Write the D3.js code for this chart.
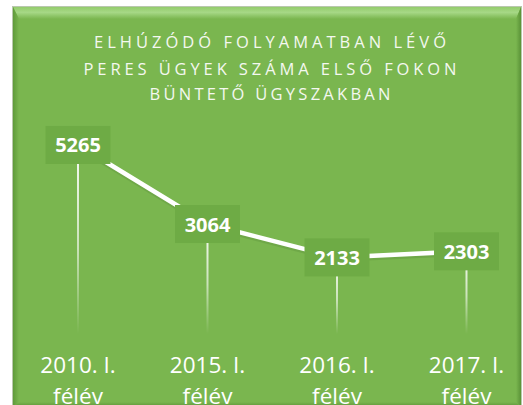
<!DOCTYPE html>
<html><head><meta charset="utf-8">
<script src="https://cdn.jsdelivr.net/npm/d3@7"></script>
<style>html,body{margin:0;padding:0;background:#fff;overflow:hidden}</style>
</head><body>
<script>
const categories = ["2010. I. félév", "2015. I. félév", "2016. I. félév", "2017. I. félév"];
const catLine1 = ["2010. I.", "2015. I.", "2016. I.", "2017. I."];
const catLine2 = ["félév", "félév", "félév", "félév"];
const values = [5265, 3064, 2133, 2303];
const titleLines = ["ELHÚZÓDÓ FOLYAMATBAN LÉVŐ", "PERES ÜGYEK SZÁMA ELSŐ FOKON", "BÜNTETŐ ÜGYSZAKBAN"];

const W = 523, H = 405;
const svg = d3.select("body").append("svg").attr("width", W).attr("height", H);
const defs = svg.append("defs");

const P = {x0: 13, y0: 7, x1: 521, y1: 407};
const base = "#7ab64f";

// panel
svg.append("rect").attr("x", P.x0 - 1).attr("y", P.y0 - 1).attr("width", P.x1 - P.x0 + 2).attr("height", P.y1 - P.y0 + 2).attr("fill", "#b9c7ae");
svg.append("rect").attr("x", P.x0).attr("y", P.y0).attr("width", P.x1 - P.x0).attr("height", P.y1 - P.y0).attr("fill", base);

// bevels
const gTop = defs.append("linearGradient").attr("id", "gTop").attr("x1", 0).attr("y1", 0).attr("x2", 0).attr("y2", 1);
gTop.append("stop").attr("offset", "0%").attr("stop-color", "#93cc6c");
gTop.append("stop").attr("offset", "45%").attr("stop-color", "#a6d886");
gTop.append("stop").attr("offset", "100%").attr("stop-color", base);
const gLeft = defs.append("linearGradient").attr("id", "gLeft").attr("x1", 0).attr("y1", 0).attr("x2", 1).attr("y2", 0);
gLeft.append("stop").attr("offset", "0%").attr("stop-color", "#5f9a3a");
gLeft.append("stop").attr("offset", "100%").attr("stop-color", base);
const gRight = defs.append("linearGradient").attr("id", "gRight").attr("x1", 1).attr("y1", 0).attr("x2", 0).attr("y2", 0);
gRight.append("stop").attr("offset", "0%").attr("stop-color", "#5a9237");
gRight.append("stop").attr("offset", "100%").attr("stop-color", base);
const gBot = defs.append("linearGradient").attr("id", "gBot").attr("x1", 0).attr("y1", 1).attr("x2", 0).attr("y2", 0);
gBot.append("stop").attr("offset", "0%").attr("stop-color", "#5a9237");
gBot.append("stop").attr("offset", "100%").attr("stop-color", base);

const bt = 12, bl = 6, br = 5, bb = 5;
svg.append("polygon").attr("points", [[P.x0,P.y0],[P.x1,P.y0],[P.x1-br,P.y0+bt],[P.x0+bl,P.y0+bt]].join(" ")).attr("fill", "url(#gTop)");
svg.append("polygon").attr("points", [[P.x0,P.y0],[P.x0+bl,P.y0+bt],[P.x0+bl,P.y1-bb],[P.x0,P.y1]].join(" ")).attr("fill", "url(#gLeft)");
svg.append("polygon").attr("points", [[P.x1,P.y0],[P.x1-br,P.y0+bt],[P.x1-br,P.y1-bb],[P.x1,P.y1]].join(" ")).attr("fill", "url(#gRight)");
svg.append("polygon").attr("points", [[P.x0,P.y1],[P.x0+bl,P.y1-bb],[P.x1-br,P.y1-bb],[P.x1,P.y1]].join(" ")).attr("fill", "url(#gBot)");

// title
const titleWidths = [352, 373, 241];
const titleBase = [48, 74.5, 100];
svg.append("g").selectAll("text").data(titleLines).join("text")
  .attr("x", 270).attr("y", (d, i) => titleBase[i])
  .attr("text-anchor", "middle")
  .attr("font-family", "'Open Sans', sans-serif").attr("font-size", 16.5)
  .attr("fill", "#f4f8f0")
  .attr("textLength", (d, i) => titleWidths[i]).attr("lengthAdjust", "spacing")
  .text(d => d);

// scales
const x = d3.scalePoint().domain(categories).range([13.25, 531.25]).padding(0.5);
const y = d3.scaleLinear().domain([0, 6000]).range([334, 118.6]);

const data = categories.map((c, i) => ({c, v: values[i], l1: catLine1[i], l2: catLine2[i]}));

// stems
const gStem = defs.append("linearGradient").attr("id", "gStem").attr("gradientUnits", "objectBoundingBox").attr("x1", 0).attr("y1", 0).attr("x2", 0).attr("y2", 1);
gStem.append("stop").attr("offset", "0%").attr("stop-color", "#ffffff").attr("stop-opacity", 0.95);
gStem.append("stop").attr("offset", "55%").attr("stop-color", "#ffffff").attr("stop-opacity", 0.6);
gStem.append("stop").attr("offset", "100%").attr("stop-color", "#ffffff").attr("stop-opacity", 0);
svg.append("g").selectAll("rect").data(data).join("rect")
  .attr("x", d => x(d.c) - 1).attr("width", 2)
  .attr("y", d => y(d.v)).attr("height", d => y(0) - y(d.v))
  .attr("fill", "url(#gStem)");

// line with shadow
const line = d3.line().x(d => x(d.c)).y(d => y(d.v));
svg.append("path").datum(data).attr("d", line).attr("fill", "none")
  .attr("stroke", "#5c8f3c").attr("stroke-opacity", 0.35).attr("stroke-width", 5)
  .attr("transform", "translate(0,2)");
svg.append("path").datum(data).attr("d", line).attr("fill", "none")
  .attr("stroke", "#ffffff").attr("stroke-width", 4.5).attr("stroke-linejoin", "round");

// label boxes
const bw = 65, bh = 38;
svg.append("g").selectAll("rect").data(data).join("rect")
  .attr("x", d => x(d.c) - bw / 2).attr("y", d => y(d.v) - bh / 2)
  .attr("width", bw).attr("height", bh).attr("fill", "#6eab45");
svg.append("g").selectAll("text").data(data).join("text")
  .attr("x", d => x(d.c)).attr("y", d => y(d.v) + 7.5)
  .attr("text-anchor", "middle")
  .attr("font-family", "'Open Sans', sans-serif").attr("font-weight", "bold").attr("font-size", 20)
  .attr("fill", "#ffffff")
  .text(d => d3.format("d")(d.v));

// category labels
const gl = svg.append("g").attr("font-family", "'Open Sans', sans-serif").attr("font-size", 22.5).attr("fill", "#ffffff").attr("text-anchor", "middle");
gl.selectAll("text.l1").data(data).join("text").attr("class", "l1")
  .attr("x", d => x(d.c)).attr("y", 373).text(d => d.l1);
gl.selectAll("text.l2").data(data).join("text").attr("class", "l2")
  .attr("x", d => x(d.c)).attr("y", 403.5).text(d => d.l2);
</script>
</body></html>
